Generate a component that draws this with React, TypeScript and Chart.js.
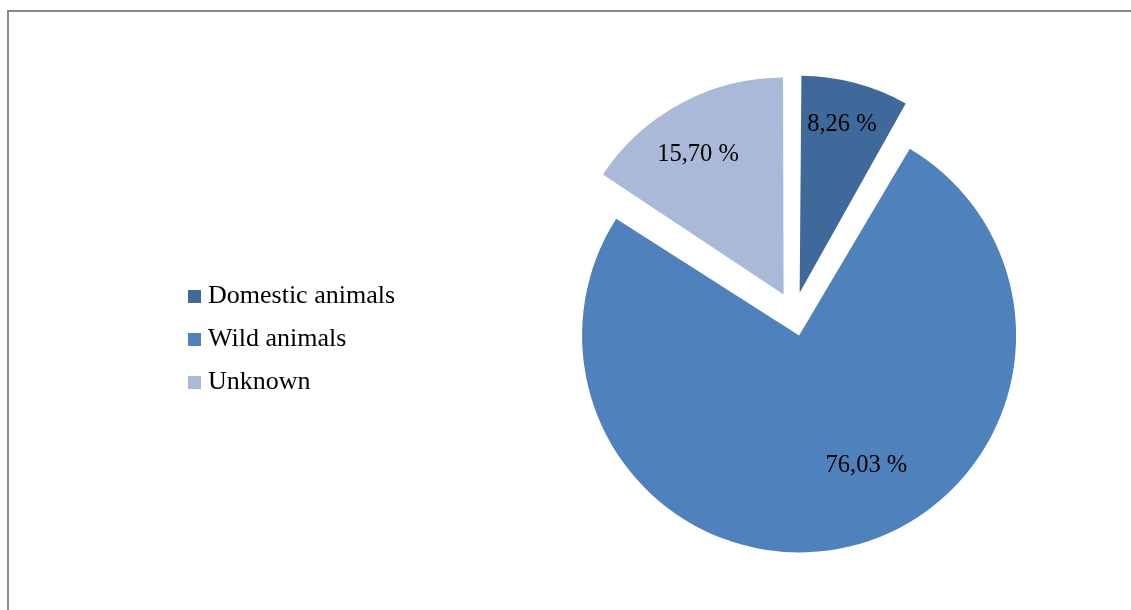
import React, { useEffect, useRef } from "react";
import { Chart, registerables } from "chart.js";

Chart.register(...registerables);

const categories = ["Domestic animals", "Wild animals", "Unknown"];
const shares = [8.26, 76.03, 15.7];
const valueLabels = ["8,26 %", "76,03 %", "15,70 %"];
const sliceColors = ["#40699B", "#4F81BD", "#AAB9D7"];
// label placement inside each slice: fraction of the slice's angle and of the radius
const labelAngleFrac = [0.47, 0.448, 0.452];
const labelRadiusFrac = [0.806, 0.669, 0.766];

const FONT = '"Liberation Serif", "Times New Roman", serif';
const PIE_RADIUS = 217;
const EXPLODE_PX = 22; // visual translation of each slice
const ARC_OFFSET = EXPLODE_PX * 4; // Chart.js divides arc offset by 4
const LABEL_DY = 2;

function makeSwatch(color: string) {
  const c = document.createElement("canvas");
  c.width = 13;
  c.height = 13;
  const g = c.getContext("2d")!;
  g.fillStyle = color;
  g.fillRect(0, 0, 13, 13);
  return c;
}

const explodeFix = {
  id: "explodeFix",
  beforeDatasetsDraw(chart: any) {
    const meta = chart.getDatasetMeta(0);
    meta.data.forEach((arc: any) => {
      const circ = arc.circumference;
      const fix = 1 - Math.sin(Math.min(Math.PI, circ || 0));
      arc.outerRadius = PIE_RADIUS - (ARC_OFFSET / 4) * fix;
    });
  },
};

const sliceLabels = {
  id: "sliceLabels",
  afterDatasetsDraw(chart: any) {
    const ctx = chart.ctx;
    const meta = chart.getDatasetMeta(0);
    ctx.save();
    ctx.font = `24.5px ${FONT}`;
    ctx.fillStyle = "#000000";
    ctx.textAlign = "center";
    ctx.textBaseline = "middle";
    meta.data.forEach((arc: any, i: number) => {
      const start = arc.startAngle;
      const end = arc.endAngle;
      const half = (start + end) / 2;
      const cx = arc.x + Math.cos(half) * EXPLODE_PX;
      const cy = arc.y + Math.sin(half) * EXPLODE_PX;
      const a = start + (end - start) * labelAngleFrac[i];
      const r = PIE_RADIUS * labelRadiusFrac[i];
      ctx.fillText(valueLabels[i], cx + Math.cos(a) * r, cy + Math.sin(a) * r + LABEL_DY);
    });
    ctx.restore();
  },
};

export default function App() {
  const ref = useRef<HTMLCanvasElement | null>(null);

  useEffect(() => {
    if (!ref.current) return;
    const swatches = sliceColors.map(makeSwatch);
    const chart = new Chart(ref.current, {
      type: "pie",
      data: {
        labels: categories,
        datasets: [
          {
            data: shares,
            backgroundColor: sliceColors,
            borderWidth: 0,
            offset: ARC_OFFSET,
          },
        ],
      },
      options: {
        responsive: false,
        animation: false,
        radius: PIE_RADIUS,
        layout: { padding: { left: 168, top: 6, right: 0, bottom: 0 } },
        plugins: {
          tooltip: { enabled: false },
          legend: {
            position: "left",
            align: "center",
            title: {
              display: true,
              text: " ",
              font: { size: 10, family: FONT },
              padding: { top: 38, bottom: 0 },
            },
            labels: {
              usePointStyle: true,
              pointStyleWidth: 1,
              padding: 17,
              color: "#000000",
              font: { family: FONT, size: 26 },
              generateLabels: () =>
                categories.map((text, i) => ({
                  text,
                  fillStyle: sliceColors[i],
                  strokeStyle: sliceColors[i],
                  fontColor: "#000000",
                  lineWidth: 0,
                  pointStyle: swatches[i],
                  hidden: false,
                  index: i,
                })),
            },
          },
        },
      },
      plugins: [explodeFix, sliceLabels],
    } as any);
    return () => chart.destroy();
  }, []);

  return (
    <div
      style={{
        position: "absolute",
        left: 7,
        top: 10,
        width: 1122,
        height: 598,
        borderTop: "2px solid #8a8a8a",
        borderLeft: "2px solid #8a8a8a",
        overflow: "hidden",
        background: "#ffffff",
      }}
    >
      <canvas ref={ref} width={1174} height={598} style={{ display: "block", width: 1174, height: 598 }} />
    </div>
  );
}
